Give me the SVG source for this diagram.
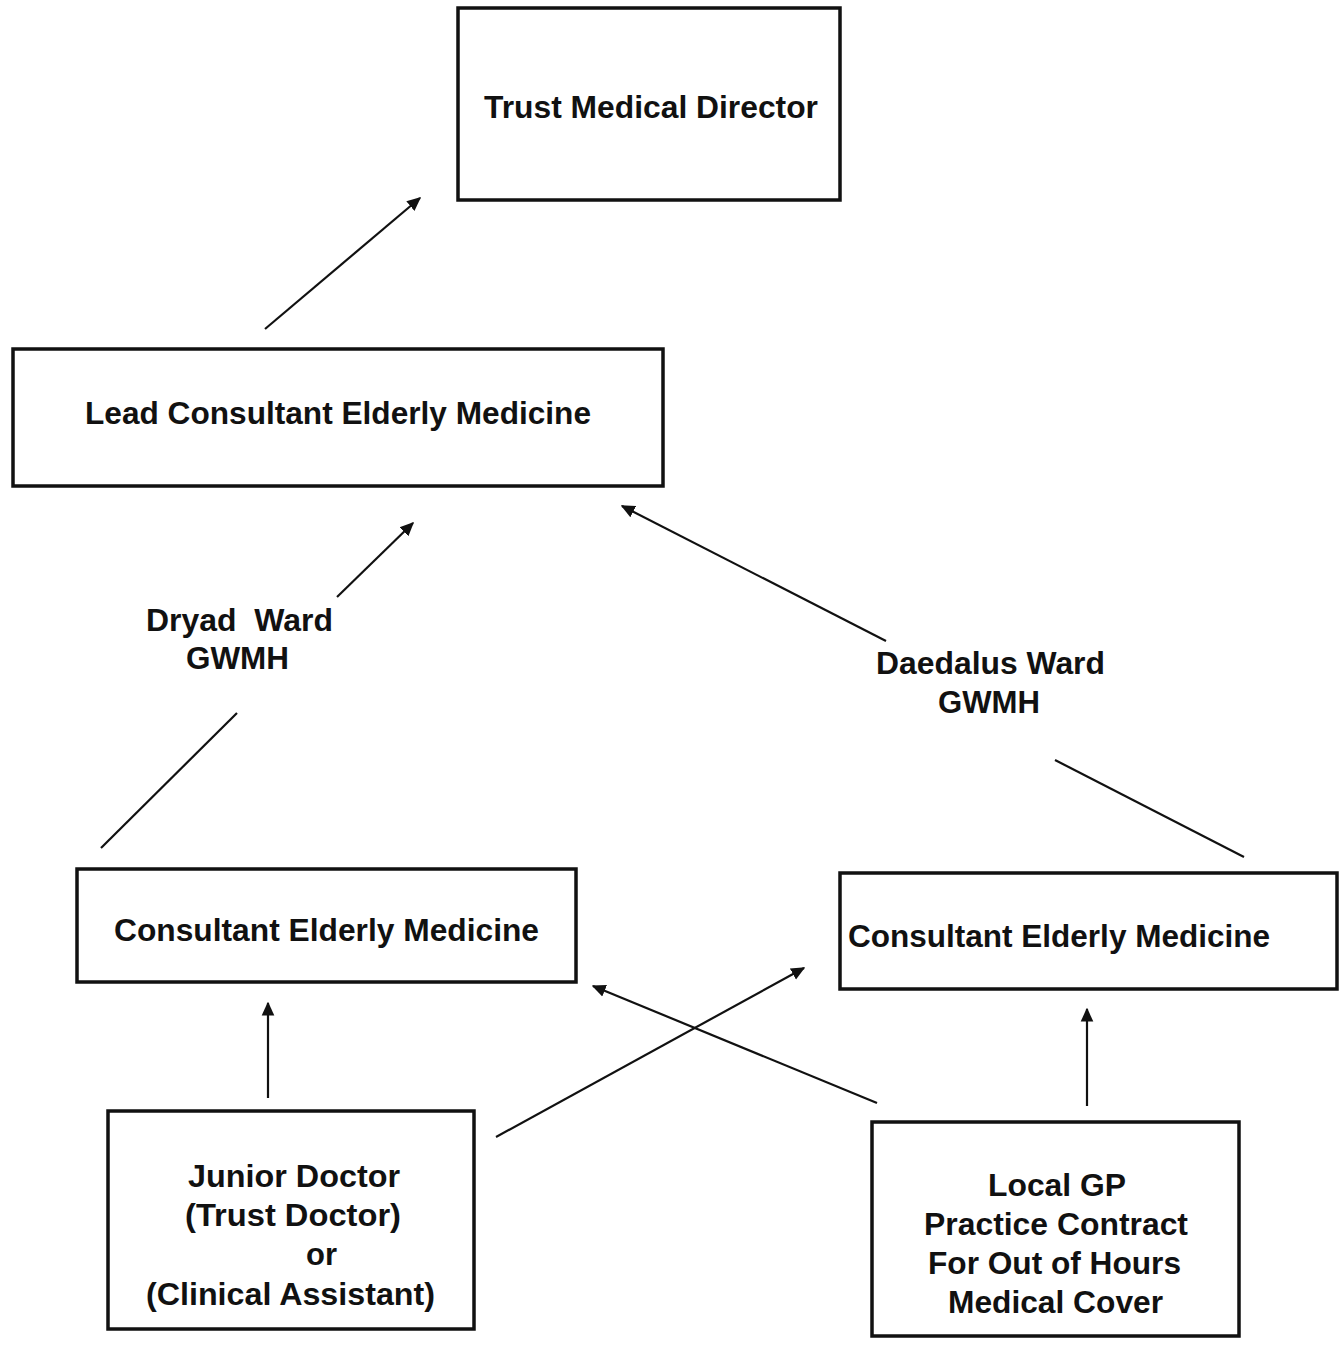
<svg xmlns="http://www.w3.org/2000/svg" width="1343" height="1345" viewBox="0 0 1343 1345">
<defs>
<style>
.box{fill:#fff;stroke:#111;stroke-width:3.5}
.t{font-family:"Liberation Sans",Arial,sans-serif;font-weight:bold;font-size:31px;fill:#111}
.c{stroke:#111;stroke-width:2.2;fill:none}
</style>
<marker id="ahb" viewBox="0 0 10 10" refX="9" refY="5" markerWidth="14" markerHeight="14" markerUnits="userSpaceOnUse" orient="auto"><path d="M0,0.5 L10,5 L0,9.5 z" fill="#111"/></marker>
</defs>
<rect width="1343" height="1345" fill="#fff"/>
<g id="connectors">
<line class="c" x1="265" y1="329" x2="420" y2="198" marker-end="url(#ahb)"/>
<line class="c" x1="337" y1="597" x2="413" y2="523" marker-end="url(#ahb)"/>
<line class="c" x1="101" y1="848" x2="237" y2="713"/>
<line class="c" x1="886" y1="641" x2="622" y2="506" marker-end="url(#ahb)"/>
<line class="c" x1="1244" y1="857" x2="1055" y2="760"/>
<line class="c" x1="268" y1="1098" x2="268" y2="1003" marker-end="url(#ahb)"/>
<line class="c" x1="496" y1="1137" x2="804" y2="968" marker-end="url(#ahb)"/>
<line class="c" x1="877" y1="1103" x2="593" y2="986" marker-end="url(#ahb)"/>
<line class="c" x1="1087" y1="1106" x2="1087" y2="1009" marker-end="url(#ahb)"/>
</g>
<g id="trust-medical-director">
<rect class="box" x="458" y="8" width="382" height="192"/>
<text class="t" x="484" y="118" textLength="334" lengthAdjust="spacingAndGlyphs">Trust Medical Director</text>
</g>
<g id="lead-consultant">
<rect class="box" x="13" y="349" width="650" height="137"/>
<text class="t" x="85" y="424" textLength="506" lengthAdjust="spacingAndGlyphs">Lead Consultant Elderly Medicine</text>
</g>
<g id="dryad-label">
<text class="t" x="146" y="631" textLength="187" lengthAdjust="spacingAndGlyphs" xml:space="preserve">Dryad  Ward</text>
<text class="t" x="186" y="669" textLength="103" lengthAdjust="spacingAndGlyphs">GWMH</text>
</g>
<g id="daedalus-label">
<text class="t" x="876" y="674" textLength="229" lengthAdjust="spacingAndGlyphs">Daedalus Ward</text>
<text class="t" x="938" y="713" textLength="102" lengthAdjust="spacingAndGlyphs">GWMH</text>
</g>
<g id="consultant-left">
<rect class="box" x="77" y="869" width="499" height="113"/>
<text class="t" x="114" y="941" textLength="425" lengthAdjust="spacingAndGlyphs">Consultant Elderly Medicine</text>
</g>
<g id="consultant-right">
<rect class="box" x="840" y="873" width="497" height="116"/>
<text class="t" x="848" y="947" textLength="422" lengthAdjust="spacingAndGlyphs">Consultant Elderly Medicine</text>
</g>
<g id="junior-doctor">
<rect class="box" x="108" y="1111" width="366" height="218"/>
<text class="t" x="188" y="1187" textLength="212" lengthAdjust="spacingAndGlyphs">Junior Doctor</text>
<text class="t" x="185" y="1226" textLength="216" lengthAdjust="spacingAndGlyphs">(Trust Doctor)</text>
<text class="t" x="306" y="1265" textLength="31" lengthAdjust="spacingAndGlyphs">or</text>
<text class="t" x="146" y="1305" textLength="289" lengthAdjust="spacingAndGlyphs">(Clinical Assistant)</text>
</g>
<g id="local-gp">
<rect class="box" x="872" y="1122" width="367" height="214"/>
<text class="t" x="988" y="1196" textLength="138" lengthAdjust="spacingAndGlyphs">Local GP</text>
<text class="t" x="924" y="1235" textLength="264" lengthAdjust="spacingAndGlyphs">Practice Contract</text>
<text class="t" x="928" y="1274" textLength="253" lengthAdjust="spacingAndGlyphs">For Out of Hours</text>
<text class="t" x="948" y="1313" textLength="215" lengthAdjust="spacingAndGlyphs">Medical Cover</text>
</g>
</svg>
